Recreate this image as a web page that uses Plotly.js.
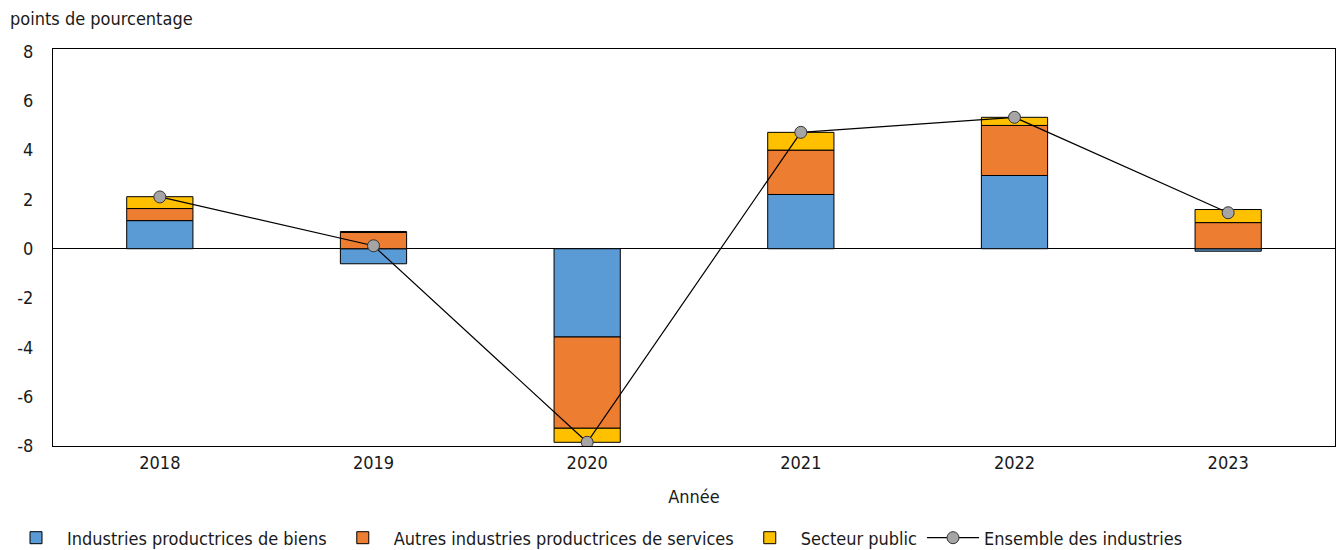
<!DOCTYPE html>
<html><head><meta charset="utf-8">
<script src="https://cdn.plot.ly/plotly-3.0.1.min.js"></script>
<style>html,body{margin:0;padding:0;background:#fff}#chart{width:1336px;height:550px}</style>
</head><body><div id="chart"></div>
<script>
const years = ['2018','2019','2020','2021','2022','2023'];
const biens = [1.14, -0.61, -3.58, 2.2, 2.97, -0.1];
const services = [0.49, 0.66, -3.7, 1.8, 2.03, 1.06];
const public_ = [0.48, 0.04, -0.57, 0.72, 0.33, 0.53];
const ensemble = [2.1, 0.12, -7.85, 4.72, 5.33, 1.46];
const yTicks = [-8,-6,-4,-2,0,2,4,6,8];
const yTickText = ['-8','-6','-4','-2','0','2','4','6','8'];
const names = ['Industries productrices de biens','Autres industries productrices de services','Secteur public','Ensemble des industries'];
const colors = ['#5b9bd5','#ed7d31','#ffc000'];
const font = {family:'"DejaVu Sans Condensed", "Liberation Sans", sans-serif', size:18, color:'#1a1a1a'};

const barStyle = c => ({color:c, line:{color:'#000', width:1}});
const data = [
  {type:'bar', x:years, y:biens, name:names[0], marker:barStyle(colors[0])},
  {type:'bar', x:years, y:services, name:names[1], marker:barStyle(colors[1])},
  {type:'bar', x:years, y:public_, name:names[2], marker:barStyle(colors[2])},
  {type:'scatter', mode:'lines+markers', x:years, y:ensemble, name:names[3],
   line:{color:'#000', width:1.2}, marker:{color:'#a5a5a5', size:12, line:{color:'#333', width:1}}}
];
const layout = {
  width:1336, height:550, font:font,
  paper_bgcolor:'#fff', plot_bgcolor:'#fff',
  barmode:'relative', bargap:0.69,
  margin:{l:53, r:1, t:49, b:104},
  showlegend:true,
  legend:{orientation:'h', xref:'container', yref:'container', x:5/1336, xanchor:'left', y:12/550, yanchor:'middle',
    font:font, traceorder:'normal', itemwidth:52},
  xaxis:{type:'category', range:[-0.5,5.5], automargin:false, showline:true, mirror:true, linecolor:'#000', linewidth:1, ticks:'', tickfont:font,
    title:{text:'Année', font:font, standoff:18}},
  yaxis:{range:[-8,8.1], automargin:false, tickvals:yTicks, ticktext:yTickText, showgrid:false, zeroline:true, zerolinecolor:'#000', zerolinewidth:1,
    showline:true, mirror:true, linecolor:'#000', linewidth:1, ticks:'', tickfont:font, ticklabelstandoff:15},
  annotations:[{text:'points de pourcentage', xref:'paper', yref:'paper', x:-45/1282, y:1+ (49-18)/397, xanchor:'left', yanchor:'middle', showarrow:false, font:font}]
};
Plotly.newPlot('chart', data, layout, {displayModeBar:false});
</script></body></html>
